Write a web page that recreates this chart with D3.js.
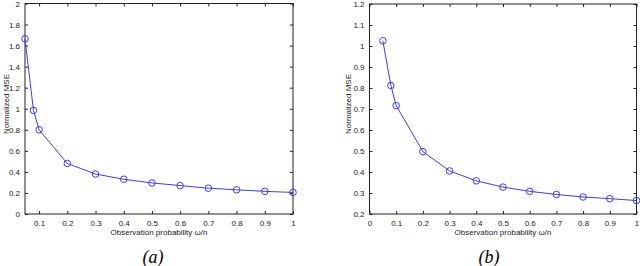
<!DOCTYPE html>
<html>
<head>
<meta charset="utf-8">
<script src="https://cdn.jsdelivr.net/npm/d3@7"></script>
<style>
  body { margin: 0; background: #fff; }
  svg { display: block; }
  .tick text { font-family: "Liberation Sans", Arial, sans-serif; font-size: 8px; fill: #222; }
  .lbl { font-family: "Liberation Sans", Arial, sans-serif; font-size: 8px; fill: #222; }
  .cap { font-family: "Liberation Serif", "Times New Roman", serif; font-style: italic; font-size: 18px; fill: #000; }
</style>
</head>
<body>
<svg width="640" height="266"></svg>
<script>
// observation probability values (shared)
var probs = [0.05, 0.08, 0.1, 0.2, 0.3, 0.4, 0.5, 0.6, 0.7, 0.8, 0.9, 1.0];

// panel (a)
var mseA = [1.665, 0.985, 0.80, 0.48, 0.38, 0.33, 0.295, 0.27, 0.245, 0.23, 0.215, 0.205];
var xTicksA = [0.1, 0.2, 0.3, 0.4, 0.5, 0.6, 0.7, 0.8, 0.9, 1];
var yTicksA = [0, 0.2, 0.4, 0.6, 0.8, 1, 1.2, 1.4, 1.6, 1.8, 2];

// panel (b)
var mseB = [1.025, 0.812, 0.716, 0.497, 0.405, 0.358, 0.328, 0.308, 0.293, 0.281, 0.273, 0.264];
var xTicksB = [0, 0.1, 0.2, 0.3, 0.4, 0.5, 0.6, 0.7, 0.8, 0.9, 1];
var yTicksB = [0.2, 0.3, 0.4, 0.5, 0.6, 0.7, 0.8, 0.9, 1, 1.1, 1.2];

var svg = d3.select("svg");
var blue = "#3c3cff";

function panel(opt) {
  var x = d3.scaleLinear().domain(opt.xDom).range([opt.left, opt.right]);
  var y = d3.scaleLinear().domain(opt.yDom).range([opt.bottom, opt.top]);
  var g = svg.append("g");
  var fmt = d3.format("~g");

  // bottom + top axes (inner ticks)
  g.append("g").attr("transform", "translate(0," + opt.bottom + ")")
    .call(d3.axisBottom(x).tickValues(opt.xTicks).tickSize(-3).tickPadding(6).tickFormat(fmt));
  g.append("g").attr("transform", "translate(0," + opt.top + ")")
    .call(d3.axisTop(x).tickValues(opt.xTicks).tickSize(-3).tickFormat(""));
  g.append("g").attr("transform", "translate(" + opt.left + ",0)")
    .call(d3.axisLeft(y).tickValues(opt.yTicks).tickSize(-3).tickPadding(5).tickFormat(fmt));
  g.append("g").attr("transform", "translate(" + opt.right + ",0)")
    .call(d3.axisRight(y).tickValues(opt.yTicks).tickSize(-3).tickFormat(""));
  g.selectAll(".domain").remove();
  g.selectAll(".tick line").attr("stroke", "#222");

  g.append("rect")
    .attr("x", opt.left).attr("y", opt.top)
    .attr("width", opt.right - opt.left).attr("height", opt.bottom - opt.top)
    .attr("fill", "none").attr("stroke", "#222").attr("stroke-width", 1);

  var pts = probs.map((p, i) => [p, opt.vals[i]]);
  g.append("path")
    .datum(pts)
    .attr("fill", "none").attr("stroke", blue).attr("stroke-width", 1)
    .attr("d", d3.line().x(d => x(d[0])).y(d => y(d[1])));
  g.selectAll("circle.m").data(pts).enter().append("circle")
    .attr("class", "m")
    .attr("cx", d => x(d[0])).attr("cy", d => y(d[1])).attr("r", 3.3)
    .attr("fill", "none").attr("stroke", blue).attr("stroke-width", 1);

  var cx = (opt.left + opt.right) / 2;
  g.append("text").attr("class", "lbl")
    .attr("x", cx).attr("y", opt.bottom + 21).attr("text-anchor", "middle")
    .text("Observation probability ω/n");
  g.append("text").attr("class", "lbl")
    .attr("transform", "translate(" + opt.ylabX + "," + opt.ylabY + ") rotate(-90)")
    .attr("text-anchor", "middle")
    .text("Normalized MSE");
  g.append("text").attr("class", "cap")
    .attr("x", opt.capX).attr("y", 263).attr("text-anchor", "middle")
    .text(opt.cap);
}

panel({ xDom: [0.05, 1], yDom: [0, 2], left: 25, right: 293, top: 3.5, bottom: 214,
        vals: mseA, xTicks: xTicksA, yTicks: yTicksA, ylabX: 8.5, ylabY: 104, capX: 153, cap: "(a)" });
panel({ xDom: [0, 1], yDom: [0.2, 1.2], left: 369.5, right: 636.5, top: 4, bottom: 214,
        vals: mseB, xTicks: xTicksB, yTicks: yTicksB, ylabX: 351, ylabY: 104, capX: 489, cap: "(b)" });
</script>
</body>
</html>
